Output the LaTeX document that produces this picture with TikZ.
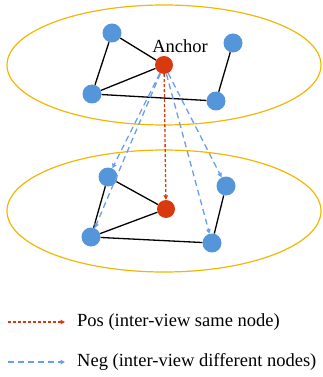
\documentclass[tikz,border=0pt]{standalone}
\usepackage{fontspec}
\setmainfont{Liberation Serif}
\usetikzlibrary{arrows.meta}
\definecolor{ngold}{HTML}{F2B705}
\definecolor{nblue}{HTML}{5596DA}
\definecolor{nred}{HTML}{D9390F}
\definecolor{ablue}{HTML}{6A9EE8}
\tikzset{
  bnode/.style={circle,fill=nblue,inner sep=0pt,minimum size=19pt},
  rnode/.style={circle,fill=nred,inner sep=0pt,minimum size=18pt},
  view/.style={draw=ngold,line width=1.2pt},
  edge/.style={draw=black,line width=1.3pt},
  posarrow/.style={draw=nred,line width=1.3pt,dash pattern=on 3pt off 2pt,-{Triangle[length=4.5pt,width=4.5pt]}},
  negarrow/.style={draw=ablue,line width=1.3pt,dash pattern=on 6pt off 4pt,-{Triangle[length=4.5pt,width=4.5pt]}},
  lbl/.style={font=\fontsize{18.5pt}{20pt}\selectfont,inner sep=0pt}
}
\begin{document}
\begin{tikzpicture}[x=1pt,y=-1pt]
\useasboundingbox (0,0) rectangle (323,377);
% views
\draw[view] (164,65) ellipse [x radius=157, y radius=60];
\draw[view] (164,211) ellipse [x radius=157, y radius=61];
% top view nodes
\node[bnode] (a1) at (112,33) {};
\node[rnode] (a2) at (164,65) {};
\node[bnode] (a3) at (233,43) {};
\node[bnode] (a4) at (92,94) {};
\node[bnode] (a5) at (216,101) {};
\node[lbl] (anchorlbl) at (180,46) {Anchor};
% bottom view nodes
\node[bnode] (b1) at (108,177) {};
\node[rnode] (b2) at (166,209) {};
\node[bnode] (b3) at (226,186) {};
\node[bnode] (b4) at (91,237) {};
\node[bnode] (b5) at (212,243) {};
% edges
\path[edge] (a1) -- (a2);
\path[edge] (a1) -- (a4);
\path[edge] (a4) -- (a2);
\path[edge] (a4) -- (a5);
\path[edge] (a3) -- (a5);
\path[edge] (b1) -- (b2);
\path[edge] (b1) -- (b4);
\path[edge] (b4) -- (b2);
\path[edge] (b4) -- (b5);
\path[edge] (b3) -- (b5);
% cross-view arrows
\path[negarrow] (a2) -- (b1);
\path[negarrow] (a2) -- (b4);
\path[negarrow] (a2) -- (b5);
\path[negarrow] (a2) -- (b3);
\path[posarrow] (a2) -- (b2);
% legend
\coordinate (p1) at (8,322);
\coordinate (p2) at (65,322);
\coordinate (n1) at (8,362);
\coordinate (n2) at (65,362);
\path[posarrow] (p1) -- (p2);
\path[negarrow] (n1) -- (n2);
\node[lbl,anchor=west] (postext) at (77,322) {Pos (inter-view same node)};
\node[lbl,anchor=west] (negtext) at (77,362) {Neg (inter-view different nodes)};
\end{tikzpicture}
\end{document}
